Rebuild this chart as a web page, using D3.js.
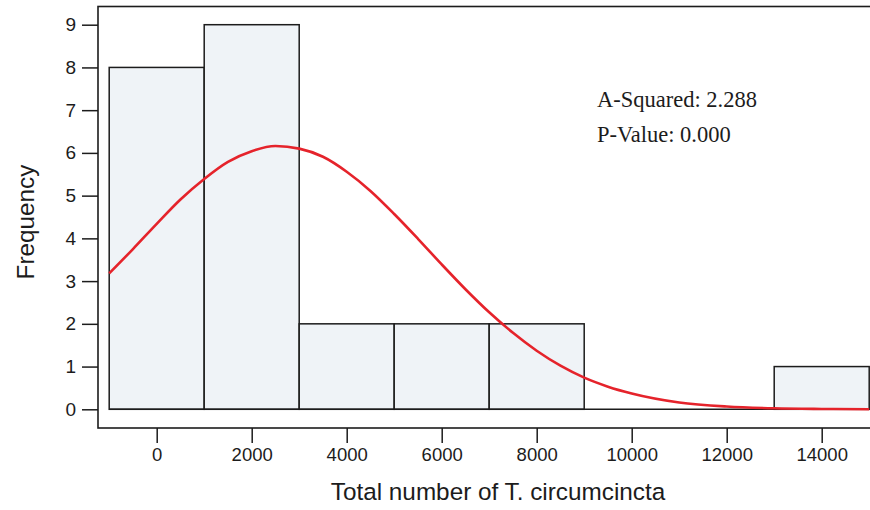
<!DOCTYPE html>
<html>
<head>
<meta charset="utf-8">
<script src="https://cdn.jsdelivr.net/npm/d3@7"></script>
<style>
  html, body { margin: 0; padding: 0; background: #fff; }
  svg { display: block; }
</style>
</head>
<body>
<svg id="chart" width="870" height="510"></svg>
<script>
// ---- data ----
const binCenters = [0, 2000, 4000, 6000, 8000, 10000, 12000, 14000];
const binCounts  = [8, 9, 2, 2, 2, 0, 0, 1];
const binWidth = 2000;
const curveX = [-1000, -500, 0, 500, 1000, 1500, 2000, 2500, 3000, 3500, 4000, 4500, 5000, 5500, 6000, 6500, 7000, 7500, 8000, 8500, 9000, 9500, 10000, 11000, 12000, 13000, 14000, 15000];
const curveY = [3.18, 3.75, 4.34, 4.91, 5.39, 5.79, 6.04, 6.16, 6.10, 5.91, 5.56, 5.11, 4.57, 3.99, 3.39, 2.81, 2.27, 1.79, 1.37, 1.02, 0.74, 0.53, 0.37, 0.16, 0.065, 0.023, 0.008, 0.002];
const xTicks = [0, 2000, 4000, 6000, 8000, 10000, 12000, 14000];
const yTicks = [0, 1, 2, 3, 4, 5, 6, 7, 8, 9];
const statLines = ["A-Squared: 2.288", "P-Value: 0.000"];
const xTitle = "Total number of T. circumcincta";
const yTitle = "Frequency";

// ---- layout ----
const svg = d3.select("#chart");
const x = d3.scaleLinear().domain([0, 2000]).range([156.7, 251.7]);
const y = d3.scaleLinear().domain([0, 9]).range([409.3, 24.7]);
const frame = { left: 98, top: 6.5, right: 876, bottom: 428 };
const sans = "Arial, 'Liberation Sans', sans-serif";
const serif = "'Times New Roman', 'Liberation Serif', serif";
const ink = "#1c1c1c";

// frame
svg.append("rect")
  .attr("x", frame.left).attr("y", frame.top)
  .attr("width", frame.right - frame.left).attr("height", frame.bottom - frame.top)
  .attr("fill", "#fff").attr("stroke", ink).attr("stroke-width", 1.6);

// bars
svg.append("g").selectAll("rect")
  .data(binCenters.map((c, i) => ({ c, n: binCounts[i] })).filter(d => d.n > 0))
  .join("rect")
  .attr("x", d => x(d.c - binWidth / 2))
  .attr("width", d => x(d.c + binWidth / 2) - x(d.c - binWidth / 2))
  .attr("y", d => y(d.n))
  .attr("height", d => y(0) - y(d.n))
  .attr("fill", "#eff3f7")
  .attr("stroke", ink)
  .attr("stroke-width", 1.5);

// baseline at 0
svg.append("line")
  .attr("x1", x(-1000)).attr("x2", frame.right)
  .attr("y1", y(0)).attr("y2", y(0))
  .attr("stroke", ink).attr("stroke-width", 1.5);

// fitted curve
const line = d3.line()
  .x((d, i) => x(curveX[i]))
  .y(d => y(d))
  .curve(d3.curveMonotoneX);
svg.append("path")
  .attr("d", line(curveY))
  .attr("fill", "none")
  .attr("stroke", "#e5232b")
  .attr("stroke-width", 2.6);

// y axis
const yAxis = d3.axisLeft(y).tickValues(yTicks).tickSize(16).tickPadding(6).tickFormat(d3.format("d"));
const gy = svg.append("g").attr("transform", `translate(${frame.left},0)`).call(yAxis);
gy.select(".domain").remove();
gy.selectAll(".tick line").attr("stroke", ink).attr("stroke-width", 1.5);
gy.selectAll(".tick text").attr("font-family", sans).attr("font-size", 19).attr("fill", ink);

// x axis
const xAxis = d3.axisBottom(x).tickValues(xTicks).tickSize(15).tickPadding(5).tickFormat(d3.format("d"));
const gx = svg.append("g").attr("transform", `translate(0,${frame.bottom})`).call(xAxis);
gx.select(".domain").remove();
gx.selectAll(".tick line").attr("stroke", ink).attr("stroke-width", 1.5);
gx.selectAll(".tick text").attr("font-family", sans).attr("font-size", 18.5).attr("fill", ink);

// titles
svg.append("text")
  .attr("x", 498).attr("y", 500)
  .attr("text-anchor", "middle")
  .attr("font-family", sans).attr("font-size", 24.3).attr("fill", ink)
  .text(xTitle);
svg.append("text")
  .attr("transform", "translate(34,222) rotate(-90)")
  .attr("text-anchor", "middle")
  .attr("font-family", sans).attr("font-size", 24.3).attr("fill", ink)
  .text(yTitle);

// stats
svg.append("g").selectAll("text")
  .data(statLines)
  .join("text")
  .attr("x", 597)
  .attr("y", (d, i) => 106.5 + i * 35)
  .attr("font-family", serif).attr("font-size", 22.5).attr("fill", ink)
  .text(d => d);
</script>
</body>
</html>
